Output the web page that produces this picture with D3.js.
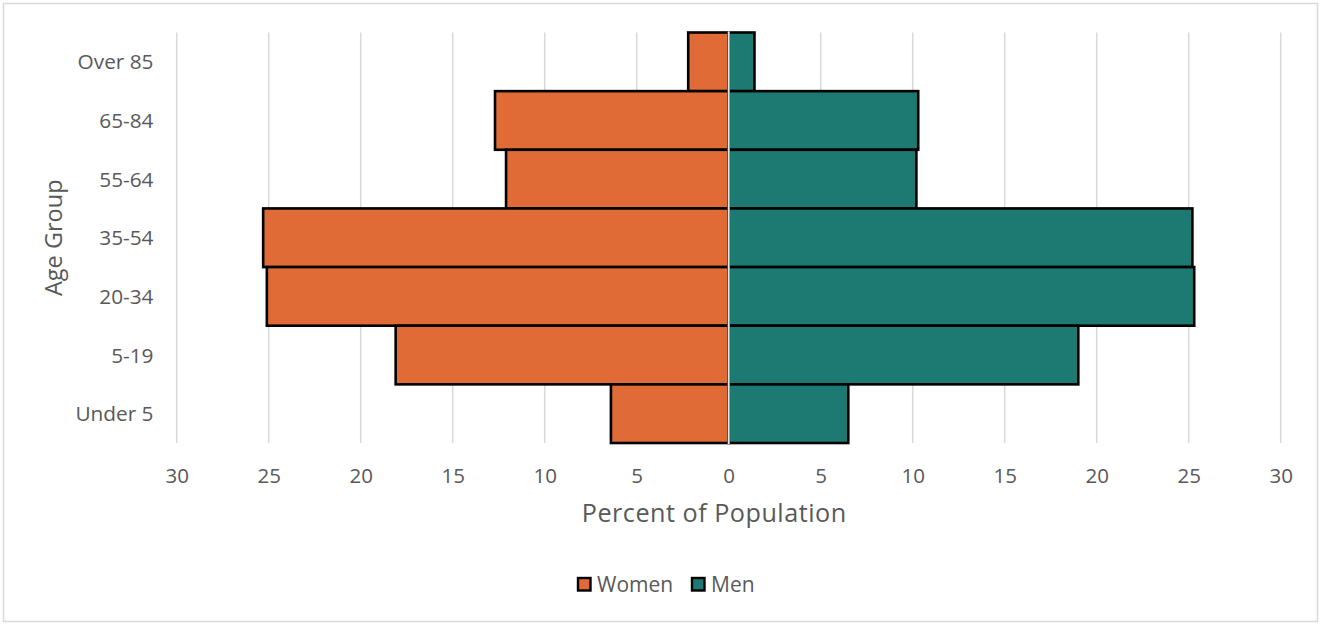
<!DOCTYPE html>
<html>
<head>
<meta charset="utf-8">
<script src="https://cdn.jsdelivr.net/npm/d3@7"></script>
<style>
  html, body { margin: 0; padding: 0; background: #fff; }
  svg { display: block; font-family: "Open Sans", sans-serif; }
</style>
</head>
<body>
<svg id="chart" width="1321" height="625"></svg>
<script>
// Age groups, top to bottom
const ageGroups = ["Over 85", "65-84", "55-64", "35-54", "20-34", "5-19", "Under 5"];
// Share of population (%) in each age group
const women = [2.2, 12.7, 12.1, 25.3, 25.1, 18.1, 6.4];
const men   = [1.4, 10.3, 10.2, 25.2, 25.3, 19.0, 6.5];
const xTicks = [-30, -25, -20, -15, -10, -5, 0, 5, 10, 15, 20, 25, 30];
const seriesNames = ["Women", "Men"];
const seriesColors = ["#e06b36", "#1d7a72"];

const svg = d3.select("#chart");
const W = 1321, H = 625;

// outer frame
svg.append("rect")
  .attr("x", 3.5).attr("y", 3.5)
  .attr("width", W - 7).attr("height", H - 7)
  .attr("fill", "#fff").attr("stroke", "#d9d9d9").attr("stroke-width", 1.5);

const plot = { left: 176.7, right: 1280.7, top: 32.5, bottom: 443 };

const x = d3.scaleLinear().domain([-30, 30]).range([plot.left, plot.right]);
const y = d3.scaleBand().domain(ageGroups).range([plot.top, plot.bottom]).padding(0);

// vertical gridlines
svg.append("g")
  .selectAll("line")
  .data(xTicks.filter(t => t !== 0))
  .join("line")
  .attr("x1", d => x(d)).attr("x2", d => x(d))
  .attr("y1", plot.top).attr("y2", plot.bottom)
  .attr("stroke", "#d9d9d9").attr("stroke-width", 1.5);

// bars
const rows = ageGroups.map((g, i) => ({ group: g, women: women[i], men: men[i] }));
const bars = svg.append("g");
bars.selectAll("rect.women")
  .data(rows)
  .join("rect")
  .attr("class", "women")
  .attr("x", d => x(-d.women))
  .attr("y", d => y(d.group))
  .attr("width", d => x(0) - x(-d.women))
  .attr("height", y.bandwidth())
  .attr("fill", seriesColors[0])
  .attr("stroke", "#000").attr("stroke-width", 2.6);
bars.selectAll("rect.men")
  .data(rows)
  .join("rect")
  .attr("class", "men")
  .attr("x", x(0))
  .attr("y", d => y(d.group))
  .attr("width", d => x(d.men) - x(0))
  .attr("height", y.bandwidth())
  .attr("fill", seriesColors[1])
  .attr("stroke", "#000").attr("stroke-width", 2.6);

// zero line over the bars
svg.append("line")
  .attr("x1", x(0)).attr("x2", x(0))
  .attr("y1", plot.top - 1.3).attr("y2", plot.bottom + 1.3)
  .attr("stroke", "#e4e4e4").attr("stroke-width", 2);

// x axis tick labels (absolute values)
const xAxis = d3.axisBottom(x).tickValues(xTicks).tickSize(0).tickPadding(0)
  .tickFormat(d => Math.abs(d));
const gx = svg.append("g").attr("transform", `translate(0,${plot.bottom + 39.5})`).call(xAxis);
gx.select(".domain").remove();
gx.selectAll("text")
  .attr("dy", 0).attr("y", 0)
  .attr("fill", "#595959").attr("font-size", 20.5)
  .attr("font-family", "'Open Sans', sans-serif");

// y axis category labels
const yAxis = d3.axisLeft(y).tickSize(0).tickPadding(0);
const gy = svg.append("g").attr("transform", `translate(153.5,0)`).call(yAxis);
gy.select(".domain").remove();
gy.selectAll("text")
  .attr("x", 0).attr("dy", "0.36em")
  .attr("fill", "#595959").attr("font-size", 20.8)
  .attr("font-family", "'Open Sans', sans-serif");

// axis titles
svg.append("text")
  .attr("x", x(0) - 14.5).attr("y", 522)
  .attr("text-anchor", "middle")
  .attr("fill", "#595959").attr("font-size", 25.2)
  .attr("letter-spacing", 0.5)
  .text("Percent of Population");
svg.append("text")
  .attr("transform", `translate(62,${(plot.top + plot.bottom) / 2}) rotate(-90)`)
  .attr("text-anchor", "middle")
  .attr("fill", "#595959").attr("font-size", 23.5)
  .text("Age Group");

// legend
const legend = svg.append("g");
const legendItems = [
  { name: seriesNames[0], color: seriesColors[0], x: 578 },
  { name: seriesNames[1], color: seriesColors[1], x: 692 }
];
const li = legend.selectAll("g").data(legendItems).join("g")
  .attr("transform", d => `translate(${d.x},578)`);
li.append("rect")
  .attr("width", 12.5).attr("height", 12.5)
  .attr("fill", d => d.color)
  .attr("stroke", "#000").attr("stroke-width", 2.4);
li.append("text")
  .attr("x", 19).attr("y", 13.5)
  .attr("fill", "#595959").attr("font-size", 21)
  .text(d => d.name);
</script>
</body>
</html>
